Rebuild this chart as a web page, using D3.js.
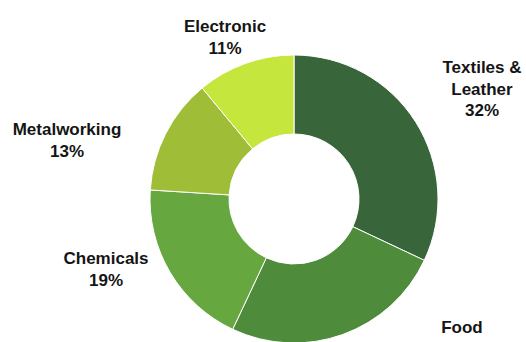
<!DOCTYPE html>
<html>
<head>
<meta charset="utf-8">
<script src="https://cdn.jsdelivr.net/npm/d3@7"></script>
<style>
  body { margin: 0; background: #fff; }
  svg text { font-family: "Liberation Sans", Arial, sans-serif; font-weight: bold; font-size: 17px; fill: #151515; }
</style>
</head>
<body>
<div id="chart"></div>
<script>
var width = 526,
  height = 342;

// data
var sectors = ["Textiles & Leather", "Food", "Chemicals", "Metalworking", "Electronic"];
var shares = [32, 25, 19, 13, 11];
var colors = ["#38663a", "#4e8c3c", "#67a740", "#a0bd38", "#c5e63c"];

// label layout (line lists and anchor points)
var labelLines = [["Textiles &", "Leather"], ["Food"], ["Chemicals"], ["Metalworking"], ["Electronic"]];
var labelAt = [[482, 73], [462, 333], [106, 264], [67, 135], [225, 32]];

var cx = 294,
  cy = 199,
  outer = 144,
  inner = 65;

var svg = d3
  .select("#chart")
  .append("svg")
  .attr("width", width)
  .attr("height", height);

var pie = d3.pie().sort(null).value(function (d) { return d; });
var arc = d3.arc().innerRadius(inner).outerRadius(outer);

var g = svg.append("g").attr("transform", "translate(" + cx + "," + cy + ")");

g.selectAll("path")
  .data(pie(shares))
  .enter()
  .append("path")
  .attr("d", arc)
  .attr("fill", function (d, i) { return colors[i]; })
  .attr("stroke", "#fff")
  .attr("stroke-width", 1);

var labels = svg
  .selectAll("text.label")
  .data(sectors)
  .enter()
  .append("text")
  .attr("class", "label")
  .attr("text-anchor", "middle")
  .attr("x", function (d, i) { return labelAt[i][0]; })
  .attr("y", function (d, i) { return labelAt[i][1]; });

labels.each(function (d, i) {
  var t = d3.select(this);
  var lines = labelLines[i].concat([shares[i] + "%"]);
  lines.forEach(function (l, j) {
    t.append("tspan")
      .attr("x", labelAt[i][0])
      .attr("dy", j == 0 ? 0 : 21.5)
      .text(l);
  });
});
</script>
</body>
</html>
